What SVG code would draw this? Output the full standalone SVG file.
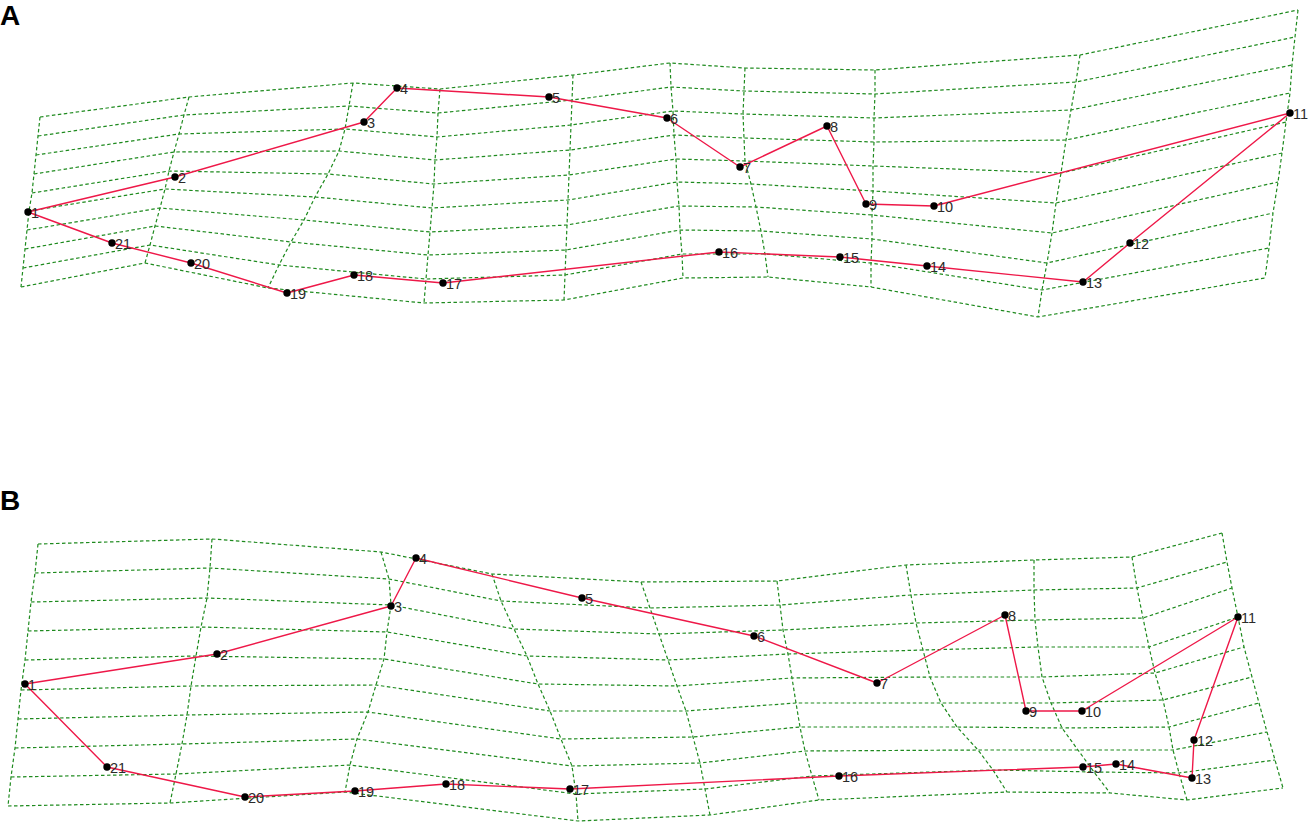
<svg xmlns="http://www.w3.org/2000/svg" width="1308" height="823" viewBox="0 0 1308 823">
<style>
.bg{fill:#ffffff}
.grid polyline{fill:none;stroke:#1e8a1e;stroke-width:1.2;stroke-dasharray:3.5,2.5}
.conn polyline,.conn polygon{fill:none;stroke:#ee1848;stroke-width:1.4;stroke-linejoin:round}
.lm circle{fill:#000}
.lm text{font-family:"Liberation Sans",Arial,sans-serif;font-size:14.5px;fill:#2b2b2b}
.title{font-family:"Liberation Sans",Arial,sans-serif;font-size:28px;font-weight:bold;fill:#000}
</style>
<rect class="bg" x="0" y="0" width="1308" height="823"/>
<text class="title" x="0" y="25">A</text>
<text class="title" x="0" y="510">B</text>

<g id="gridA" class="grid">
<polyline points="40,117 38,136 36,155 34,174 32,193 29,211 27,230 25,249 23,268 21,287"/>
<polyline points="189,97 184,115 179,134 174,152 169,171 165,189 160,208 155,226 150,245 145,263"/>
<polyline points="353,83 349,106 345,129 339,151 328,174 315,197 304,220 291,242 279,265 268,288"/>
<polyline points="440,89 438,113 437,137 435,160 434,184 432,208 430,232 428,255 426,279 424,303"/>
<polyline points="573,75 572,100 571,125 570,150 569,175 568,200 567,225 566,250 565,275 564,300"/>
<polyline points="670,63 671,87 673,111 674,135 676,159 677,182 679,206 680,230 682,254 683,278"/>
<polyline points="745,68 744,91 743,114 744,138 745,161 751,184 756,207 761,231 765,254 768,277"/>
<polyline points="875,70 875,94 874,118 874,142 873,166 873,191 872,215 872,239 871,263 871,287"/>
<polyline points="1080,55 1076,82 1071,110 1066,140 1061,173 1056,203 1052,233 1047,263 1042,290 1038,317"/>
<polyline points="1298,10 1295,37 1292,65 1290,93 1286,122 1282,153 1278,182 1273,213 1269,248 1265,278"/>
<polyline points="40,117 189,97 353,83 440,89 573,75 670,63 745,68 875,70 1080,55 1298,10"/>
<polyline points="38,136 184,115 349,106 438,113 572,100 671,87 744,91 875,94 1076,82 1295,37"/>
<polyline points="36,155 179,134 345,129 437,137 571,125 673,111 743,114 874,118 1071,110 1292,65"/>
<polyline points="34,174 174,152 339,151 435,160 570,150 674,135 744,138 874,142 1066,140 1290,93"/>
<polyline points="32,193 169,171 328,174 434,184 569,175 676,159 745,161 873,166 1061,173 1286,122"/>
<polyline points="29,211 165,189 315,197 432,208 568,200 677,182 751,184 873,191 1056,203 1282,153"/>
<polyline points="27,230 160,208 304,220 430,232 567,225 679,206 756,207 872,215 1052,233 1278,182"/>
<polyline points="25,249 155,226 291,242 428,255 566,250 680,230 761,231 872,239 1047,263 1273,213"/>
<polyline points="23,268 150,245 279,265 426,279 565,275 682,254 765,254 871,263 1042,290 1269,248"/>
<polyline points="21,287 145,263 268,288 424,303 564,300 683,278 768,277 871,287 1038,317 1265,278"/>
</g>

<g id="gridB" class="grid">
<polyline points="38,544 35,573 31,602 28,631 25,660 21,690 18,719 15,748 11,777 8,806"/>
<polyline points="212,539 210,568 207,598 201,627 196,656 191,686 187,715 182,744 176,774 170,803"/>
<polyline points="381,552 389,579 391,605 387,632 384,659 376,685 368,712 357,739 350,765 345,792"/>
<polyline points="492,574 501,601 514,629 527,656 538,684 550,711 561,739 572,766 576,794 578,821"/>
<polyline points="641,582 650,608 659,634 668,660 677,686 686,711 693,737 700,763 705,789 710,815"/>
<polyline points="777,581 780,605 783,630 788,654 792,678 796,703 800,727 805,751 812,776 819,800"/>
<polyline points="906,565 911,595 916,623 923,650 930,677 941,703 957,727 978,750 993,770 1007,792"/>
<polyline points="1034,560 1034,590 1035,620 1038,647 1042,677 1051,703 1062,728 1078,750 1094,772 1110,793"/>
<polyline points="1132,557 1137,588 1143,618 1149,647 1155,673 1163,700 1169,727 1173,750 1179,773 1187,800"/>
<polyline points="1222,533 1227,562 1232,588 1238,617 1244,647 1252,677 1259,703 1267,732 1275,760 1283,788"/>
<polyline points="38,544 212,539 381,552 492,574 641,582 777,581 906,565 1034,560 1132,557 1222,533"/>
<polyline points="35,573 210,568 389,579 501,601 650,608 780,605 911,595 1034,590 1137,588 1227,562"/>
<polyline points="31,602 207,598 391,605 514,629 659,634 783,630 916,623 1035,620 1143,618 1232,588"/>
<polyline points="28,631 201,627 387,632 527,656 668,660 788,654 923,650 1038,647 1149,647 1238,617"/>
<polyline points="25,660 196,656 384,659 538,684 677,686 792,678 930,677 1042,677 1155,673 1244,647"/>
<polyline points="21,690 191,686 376,685 550,711 686,711 796,703 941,703 1051,703 1163,700 1252,677"/>
<polyline points="18,719 187,715 368,712 561,739 693,737 800,727 957,727 1062,728 1169,727 1259,703"/>
<polyline points="15,748 182,744 357,739 572,766 700,763 805,751 978,750 1078,750 1173,750 1267,732"/>
<polyline points="11,777 176,774 350,765 576,794 705,789 812,776 993,770 1094,772 1179,773 1275,760"/>
<polyline points="8,806 170,803 345,792 578,821 710,815 819,800 1007,792 1110,793 1187,800 1283,788"/>
</g>

<g id="connectors" class="conn">
<polygon id="outlineA" points="28,212 175,177 364,122 397,88 549,97 667,118 740,167 827,126 866,204 934,206 1290,113 1130,243 1083,282 927,266 840,257 719,252 443,283 354,275 287,293 191,263 112,243"/>
<polygon id="outlineB" points="25,684 217,654 391,606 416,558 582,598 754,636 877,683 1005,615 1026,711 1082,711 1238,617 1194,740 1192,778 1116,764 1083,767 839,776 570,789 446,784 355,791 245,797 107,767"/>
</g>

<g id="landmarksA" class="lm">
<g id="A1"><circle cx="28" cy="212" r="3.7"/><text x="31" y="218">1</text></g>
<g id="A2"><circle cx="175" cy="177" r="3.7"/><text x="178" y="183">2</text></g>
<g id="A3"><circle cx="364" cy="122" r="3.7"/><text x="367" y="128">3</text></g>
<g id="A4"><circle cx="397" cy="88" r="3.7"/><text x="400" y="94">4</text></g>
<g id="A5"><circle cx="549" cy="97" r="3.7"/><text x="552" y="103">5</text></g>
<g id="A6"><circle cx="667" cy="118" r="3.7"/><text x="670" y="124">6</text></g>
<g id="A7"><circle cx="740" cy="167" r="3.7"/><text x="743" y="173">7</text></g>
<g id="A8"><circle cx="827" cy="126" r="3.7"/><text x="830" y="132">8</text></g>
<g id="A9"><circle cx="866" cy="204" r="3.7"/><text x="869" y="210">9</text></g>
<g id="A10"><circle cx="934" cy="206" r="3.7"/><text x="937" y="212">10</text></g>
<g id="A11"><circle cx="1290" cy="113" r="3.7"/><text x="1293" y="119">11</text></g>
<g id="A12"><circle cx="1130" cy="243" r="3.7"/><text x="1133" y="249">12</text></g>
<g id="A13"><circle cx="1083" cy="282" r="3.7"/><text x="1086" y="288">13</text></g>
<g id="A14"><circle cx="927" cy="266" r="3.7"/><text x="930" y="272">14</text></g>
<g id="A15"><circle cx="840" cy="257" r="3.7"/><text x="843" y="263">15</text></g>
<g id="A16"><circle cx="719" cy="252" r="3.7"/><text x="722" y="258">16</text></g>
<g id="A17"><circle cx="443" cy="283" r="3.7"/><text x="446" y="289">17</text></g>
<g id="A18"><circle cx="354" cy="275" r="3.7"/><text x="357" y="281">18</text></g>
<g id="A19"><circle cx="287" cy="293" r="3.7"/><text x="290" y="299">19</text></g>
<g id="A20"><circle cx="191" cy="263" r="3.7"/><text x="194" y="269">20</text></g>
<g id="A21"><circle cx="112" cy="243" r="3.7"/><text x="115" y="249">21</text></g>
</g>

<g id="landmarksB" class="lm">
<g id="B1"><circle cx="25" cy="684" r="3.7"/><text x="28" y="690">1</text></g>
<g id="B2"><circle cx="217" cy="654" r="3.7"/><text x="220" y="660">2</text></g>
<g id="B3"><circle cx="391" cy="606" r="3.7"/><text x="394" y="612">3</text></g>
<g id="B4"><circle cx="416" cy="558" r="3.7"/><text x="419" y="564">4</text></g>
<g id="B5"><circle cx="582" cy="598" r="3.7"/><text x="585" y="604">5</text></g>
<g id="B6"><circle cx="754" cy="636" r="3.7"/><text x="757" y="642">6</text></g>
<g id="B7"><circle cx="877" cy="683" r="3.7"/><text x="880" y="689">7</text></g>
<g id="B8"><circle cx="1005" cy="615" r="3.7"/><text x="1008" y="621">8</text></g>
<g id="B9"><circle cx="1026" cy="711" r="3.7"/><text x="1029" y="717">9</text></g>
<g id="B10"><circle cx="1082" cy="711" r="3.7"/><text x="1085" y="717">10</text></g>
<g id="B11"><circle cx="1238" cy="617" r="3.7"/><text x="1241" y="623">11</text></g>
<g id="B12"><circle cx="1194" cy="740" r="3.7"/><text x="1197" y="746">12</text></g>
<g id="B13"><circle cx="1192" cy="778" r="3.7"/><text x="1195" y="784">13</text></g>
<g id="B14"><circle cx="1116" cy="764" r="3.7"/><text x="1119" y="770">14</text></g>
<g id="B15"><circle cx="1083" cy="767" r="3.7"/><text x="1086" y="773">15</text></g>
<g id="B16"><circle cx="839" cy="776" r="3.7"/><text x="842" y="782">16</text></g>
<g id="B17"><circle cx="570" cy="789" r="3.7"/><text x="573" y="795">17</text></g>
<g id="B18"><circle cx="446" cy="784" r="3.7"/><text x="449" y="790">18</text></g>
<g id="B19"><circle cx="355" cy="791" r="3.7"/><text x="358" y="797">19</text></g>
<g id="B20"><circle cx="245" cy="797" r="3.7"/><text x="248" y="803">20</text></g>
<g id="B21"><circle cx="107" cy="767" r="3.7"/><text x="110" y="773">21</text></g>
</g>
</svg>
